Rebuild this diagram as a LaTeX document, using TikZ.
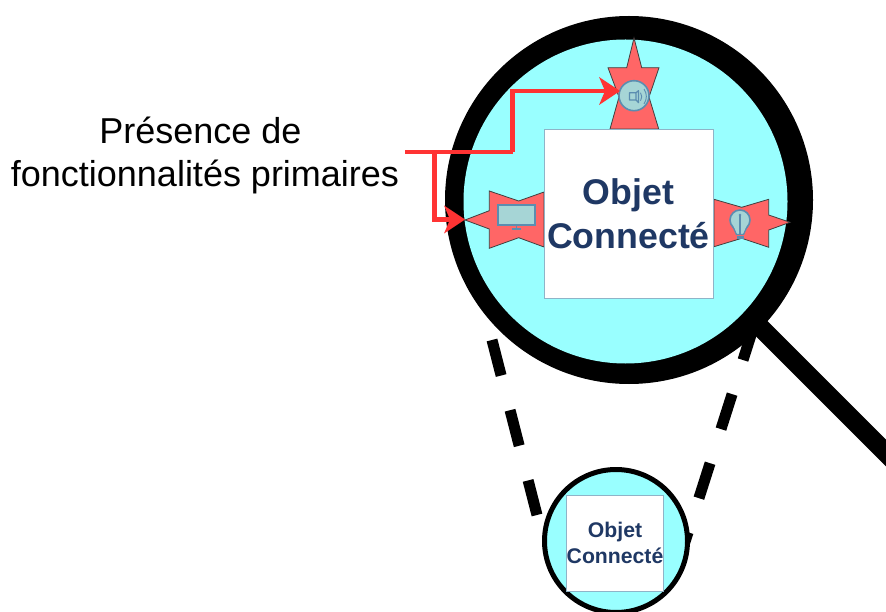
\documentclass[tikz,border=0pt]{standalone}
\usepackage{fontspec}
\setmainfont{Liberation Sans}
\usetikzlibrary{arrows.meta}
\definecolor{cyanfill}{HTML}{99FFFF}
\definecolor{starred}{HTML}{FF6666}
\definecolor{navy}{HTML}{1F3864}
\definecolor{arrowred}{HTML}{FF3333}
\definecolor{iconfill}{HTML}{A6D5D6}
\definecolor{iconline}{HTML}{5B8DB0}
\definecolor{boxline}{HTML}{8FB4C8}
\tikzset{
  disc/.style={circle,inner sep=0pt,outer sep=0pt},
  objbox/.style={rectangle,fill=white,draw=boxline,line width=0.9pt,inner sep=0pt,outer sep=0pt,
    align=center,text=navy},
  starshape/.style={fill=starred,draw=black!75,line width=0.8pt,line join=miter},
  zoomdash/.style={line width=11pt,draw=black,dash pattern=on 36.7pt off 35.8pt},
  redline/.style={draw=arrowred,line width=4.4pt,line join=miter},
  redarrow/.style={redline,-{Stealth[length=21pt,width=28pt,inset=6pt,line width=0pt]}},
  icon/.style={fill=iconfill,draw=iconline,line width=1.6pt},
  iconstroke/.style={draw=iconline,line width=1.2pt}
}
\begin{document}
\begin{tikzpicture}[x=1pt,y=-1pt]
\useasboundingbox (0,0) rectangle (886,612);
% anchors for the zoom guides
\coordinate (dl1) at (492,340);
\coordinate (dl2) at (537,515);
\coordinate (dr1) at (776.2,256);
\coordinate (dr2) at (684.6,543);
\coordinate (h1) at (757,324);
\coordinate (h2) at (900,467);
\draw[zoomdash] (dl1) -- (dl2);
\draw[zoomdash] (dr1) -- (dr2);
% handle
\draw[line width=19pt,draw=black] (h1) -- (h2);
% lens
\node[disc,fill=black,minimum size=368pt] (outer) at (629,200) {};
\node[disc,fill=cyanfill,minimum size=324pt] (inner) at (625.5,201.5) {};
% stars
\draw[starshape] (634,38) -- (641.7,67.7) -- (659,67.7) -- (649,97) -- (658.7,129) -- (610,129) -- (619,97) -- (608,67.7) -- (626.7,67.7) -- cycle;
\draw[starshape] (465,220) -- (489.3,210.7) -- (489.3,191) -- (518.7,201) -- (544,192) -- (544,247) -- (518.7,237.7) -- (489.3,248.3) -- (489.3,229) -- cycle;
\draw[starshape] (714,199.3) -- (741.7,207.3) -- (768.7,199.3) -- (768.7,215) -- (790,222.3) -- (768.7,230) -- (768.7,247.3) -- (741.7,238.3) -- (714,246.7) -- cycle;
% main object
\node[objbox,minimum size=169pt,font=\fontsize{35.7}{44}\selectfont\bfseries] (obj) at (628.5,213.5)
  {Objet\\Connecté};
% speaker icon
\node[disc,icon,minimum size=30pt] (speaker) at (634,95.7) {};
\draw[iconstroke,line join=round] (636,92.7) -- (636,100) -- (629.5,100) -- (629.5,92.7) -- (636,92.7) -- (638.5,90.7) -- (638.5,102.7) -- (636,100);
\draw[iconstroke,line width=0.9pt] (640.5,92.7) arc (-35:35:7);
\draw[iconstroke,line width=0.9pt] (644,89) arc (-35:35:13);
% monitor icon
\node[rectangle,icon,minimum width=37pt,minimum height=20pt,inner sep=0pt] (monitor) at (516.3,215) {};
\draw[iconstroke] (monitor.south) -- ++(0,4);
\draw[iconstroke] (512,229) -- (521,229);
% bulb icon
\node[disc,icon,minimum size=20pt] (bulb) at (740,220) {};
\fill[iconfill] (733.5,226) -- (737,235) -- (743,235) -- (746.5,226) -- cycle;
\draw[iconstroke] (733,227) -- (736.5,234.5) -- (743.5,234.5) -- (747,227);
\draw[iconstroke] (740,215) -- (740,234);
\draw[iconline,line width=2.4pt] (736.5,237.5) -- (743.5,237.5);
\fill[iconline] (740,215) circle (1.3);
% label and arrows
\node[align=center,font=\fontsize{36}{43}\selectfont,inner sep=0pt] (label) at (205,155)
  {Présence de\hspace*{9pt}\\fonctionnalités primaires};
\coordinate (start) at (405,152);
\coordinate (fork) at (434.5,152);
\coordinate (upbend) at (512.5,152);
\coordinate (uptop) at (512.5,91);
\coordinate (downbend) at (434.5,219.5);
\coordinate (speakertip) at (620,91);
\coordinate (startip) at (465,219.5);
\draw[redline] (start) -- (upbend);
\draw[redarrow] (upbend) -- (uptop) -- (speakertip);
\draw[redarrow] (fork) -- (downbend) -- (startip);
% small circle
\node[disc,fill=cyanfill,draw=black,line width=5pt,minimum size=143pt] (small) at (616,541) {};
\node[objbox,minimum size=96pt,line width=0.7pt,font=\fontsize{21.2}{26}\selectfont\bfseries] (smallobj) at (615,543)
  {Objet\\Connecté};
\end{tikzpicture}
\end{document}
